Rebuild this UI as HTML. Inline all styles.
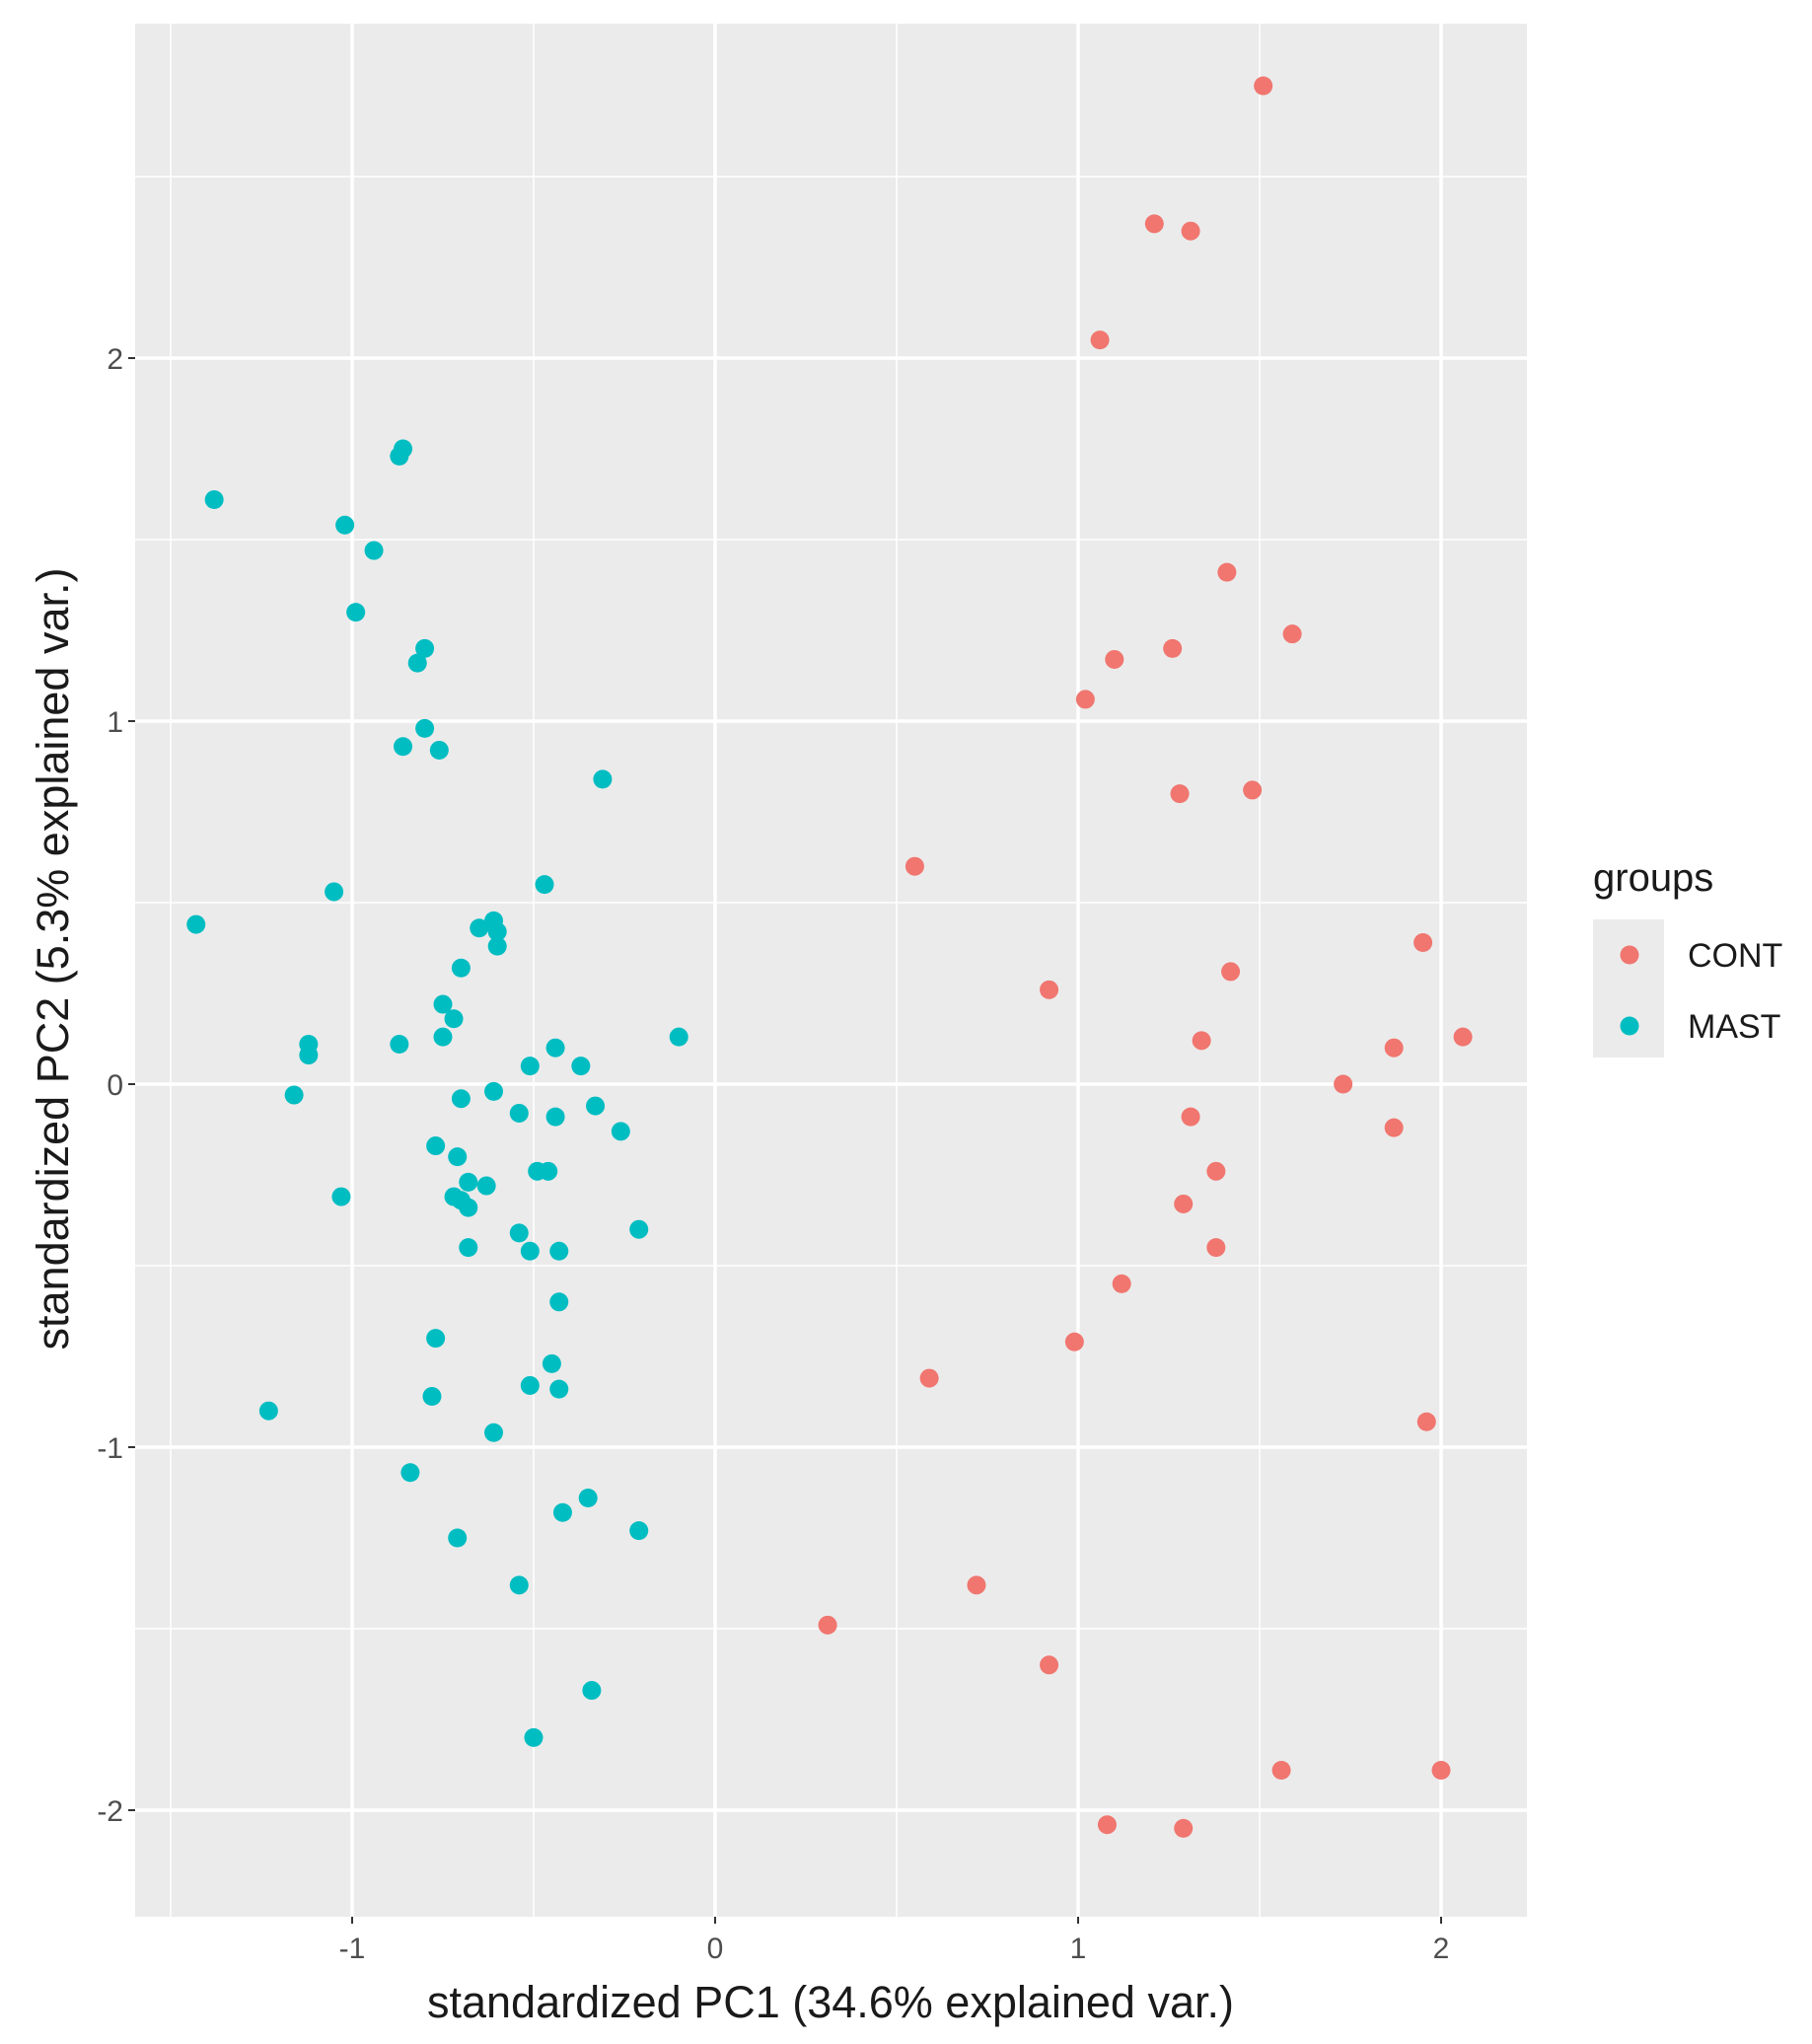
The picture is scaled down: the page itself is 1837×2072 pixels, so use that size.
<!DOCTYPE html>
<html><head><meta charset="utf-8"><style>
html,body{margin:0;padding:0;background:#fff;}
svg{display:block;font-family:"Liberation Sans",sans-serif;}
</style></head><body>
<svg id="chart" width="1837" height="2072" viewBox="0 0 1837 2072"></svg>
<script>
const contX=[1.51,1.21,1.31,1.06,1.41,1.59,1.26,1.10,1.02,1.28,1.48,0.55,1.95,0.92,1.42,2.06,1.34,1.87,1.73,1.31,1.87,1.38,1.29,1.38,1.12,0.99,0.59,1.96,0.72,0.31,0.92,1.56,2.00,1.08,1.29];
const contY=[2.75,2.37,2.35,2.05,1.41,1.24,1.20,1.17,1.06,0.80,0.81,0.60,0.39,0.26,0.31,0.13,0.12,0.10,0.00,-0.09,-0.12,-0.24,-0.33,-0.45,-0.55,-0.71,-0.81,-0.93,-1.38,-1.49,-1.60,-1.89,-1.89,-2.04,-2.05];
const mastX=[-1.38,-0.86,-0.87,-1.02,-0.94,-0.99,-0.80,-0.82,-0.80,-0.86,-0.76,-0.31,-0.47,-1.05,-1.43,-0.61,-0.65,-0.60,-0.60,-0.70,-0.75,-0.72,-0.10,-1.12,-1.12,-0.87,-0.75,-0.44,-0.37,-0.51,-1.16,-0.61,-0.70,-0.33,-0.54,-0.44,-0.26,-0.77,-0.71,-0.49,-0.46,-0.68,-0.63,-0.72,-0.70,-0.68,-1.03,-0.21,-0.54,-0.68,-0.51,-0.43,-0.43,-0.77,-0.45,-0.51,-0.43,-0.78,-1.23,-0.61,-0.84,-0.35,-0.42,-0.21,-0.71,-0.54,-0.34,-0.50];
const mastY=[1.61,1.75,1.73,1.54,1.47,1.30,1.20,1.16,0.98,0.93,0.92,0.84,0.55,0.53,0.44,0.45,0.43,0.42,0.38,0.32,0.22,0.18,0.13,0.11,0.08,0.11,0.13,0.10,0.05,0.05,-0.03,-0.02,-0.04,-0.06,-0.08,-0.09,-0.13,-0.17,-0.20,-0.24,-0.24,-0.27,-0.28,-0.31,-0.32,-0.34,-0.31,-0.40,-0.41,-0.45,-0.46,-0.46,-0.60,-0.70,-0.77,-0.83,-0.84,-0.86,-0.90,-0.96,-1.07,-1.14,-1.18,-1.23,-1.25,-1.38,-1.67,-1.80];
const xTicks=[-1,0,1,2];
const yTicks=[-2,-1,0,1,2];
const xMinor=[-1.5,-0.5,0.5,1.5];
const yMinor=[-1.5,-0.5,0.5,1.5,2.5];

const NS='http://www.w3.org/2000/svg';
const svg=document.getElementById('chart');
const P={l:137,r:1548,t:24,b:1943};
const X0=725,UX=368,Y0=1099,UY=368;
const sx=v=>X0+v*UX, sy=v=>Y0-v*UY;
function mk(tag,attrs,parent){const e=document.createElementNS(NS,tag);for(const k in attrs)e.setAttribute(k,attrs[k]);(parent||svg).appendChild(e);return e;}

const panel=mk('rect',{x:P.l,y:P.t,width:P.r-P.l,height:P.b-P.t,fill:'#ebebeb'});


xMinor.forEach(v=>{const l=mk('line',{x1:sx(v),x2:sx(v),y1:P.t,y2:P.b,stroke:'#fff','stroke-width':1.5});

});
yMinor.forEach(v=>{const l=mk('line',{x1:P.l,x2:P.r,y1:sy(v),y2:sy(v),stroke:'#fff','stroke-width':1.5});

});
xTicks.forEach(v=>{const l=mk('line',{x1:sx(v),x2:sx(v),y1:P.t,y2:P.b,stroke:'#fff','stroke-width':3.5});


const t=mk('line',{x1:sx(v),x2:sx(v),y1:P.b,y2:P.b+7,stroke:'#333','stroke-width':2});


const tx=mk('text',{x:sx(v),y:P.b+42,'text-anchor':'middle','font-size':30,fill:'#4d4d4d'});tx.textContent=String(v);

});
yTicks.forEach(v=>{const l=mk('line',{x1:P.l,x2:P.r,y1:sy(v),y2:sy(v),stroke:'#fff','stroke-width':3.5});


const t=mk('line',{x1:P.l-7,x2:P.l,y1:sy(v),y2:sy(v),stroke:'#333','stroke-width':2});


const tx=mk('text',{x:P.l-12,y:sy(v)+11,'text-anchor':'end','font-size':30,fill:'#4d4d4d'});tx.textContent=String(v);

});

contX.forEach((v,i)=>{const c=mk('circle',{cx:sx(v),cy:sy(contY[i]),r:9.5,fill:'#f0766f'});

});
mastX.forEach((v,i)=>{const c=mk('circle',{cx:sx(v),cy:sy(mastY[i]),r:9.5,fill:'#00bdc2'});

});

const xt=mk('text',{x:842,y:2045,'text-anchor':'middle','font-size':45,fill:'#1a1a1a'});xt.textContent='standardized PC1 (34.6% explained var.)';


const yt=mk('text',{x:0,y:0,'text-anchor':'middle','font-size':45,fill:'#1a1a1a',transform:'translate(69,972) rotate(-90)'});yt.textContent='standardized PC2 (5.3% explained var.)';



const lg=mk('text',{x:1615,y:903,'font-size':40,fill:'#1a1a1a'});lg.textContent='groups';


const kb=mk('rect',{x:1615,y:932,width:72,height:140,fill:'#ebebeb'});


[['CONT','#f0766f',968],['MAST','#00bdc2',1040]].forEach(([n,c,y])=>{
const d=mk('circle',{cx:1652,cy:y,r:9.5,fill:c});


const t=mk('text',{x:1711,y:y+12,'font-size':34,fill:'#1a1a1a'});t.textContent=n;

});
</script>
</body></html>
